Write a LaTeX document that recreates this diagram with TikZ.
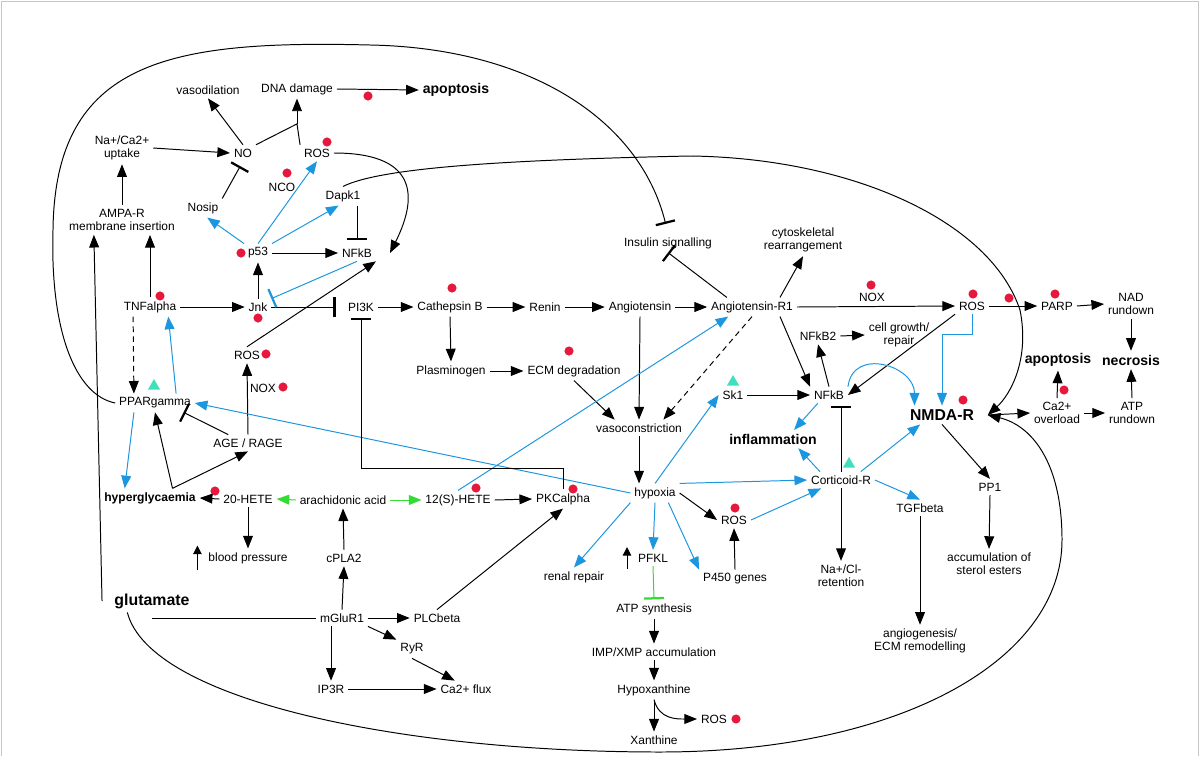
\documentclass[tikz,border=0pt]{standalone}
\usepackage{fontspec}
\setmainfont{Liberation Sans}
\usetikzlibrary{arrows.meta,shapes.geometric}

\definecolor{pblue}{RGB}{28,150,222}
\definecolor{pgreen}{RGB}{50,220,50}
\definecolor{pred}{RGB}{230,25,60}
\definecolor{pturq}{RGB}{64,224,190}

\tikzset{
	txt/.style={inner sep=2.5pt, align=center, font=\fontsize{8.5}{9.5}\selectfont},
	bld/.style={txt, font=\bfseries\fontsize{10}{11}\selectfont},
	act/.style={->},
	blu/.style={->, pblue},
	inh/.style={-{Bar[width=14pt,line width=1.6pt]}},
	hit/.style={circle, fill=pred, inner sep=0pt, minimum size=6.5pt},
	tri/.style={regular polygon, regular polygon sides=3, fill=pturq, inner sep=0pt, minimum size=10pt}
}

\begin{document}
\begin{tikzpicture}[x=0.025cm, y=-0.025cm, line width=0.7pt, >={Triangle[length=9pt,width=7pt]}]
	\useasboundingbox (0,0) rectangle (1200,756);
	\draw[gray!45, line width=0.6pt] (1,756) -- (1,1) -- (1198,1) -- (1198,756);

	% labels
	\node[txt] (vaso) at (208,90) {vasodilation};
	\node[txt] (dna) at (297,89) {DNA damage};
	\node[bld] (apop) at (456,90) {apoptosis};
	\node[txt] (naca) at (122,148) {Na+/Ca2+\\uptake};
	\node[txt] (no) at (243,153) {NO};
	\node[txt] (rosA) at (317,153) {ROS};
	\node[txt] (nco) at (282,187) {NCO};
	\node[txt] (dapk) at (343,196) {Dapk1};
	\node[txt] (nosip) at (203,208) {Nosip};
	\node[txt] (ampa) at (122,220) {AMPA-R\\membrane insertion};
	\node[txt] (ptf) at (258,253) {p53};
	\node[txt] (nfkbA) at (357,253) {NFkB};
	\node[txt] (insulin) at (668,243) {Insulin signalling};
	\node[txt] (cyto) at (803,240) {cytoskeletal\\rearrangement};
	\node[txt] (tnf) at (150,307) {TNFalpha};
	\node[txt] (jnk) at (258,307) {Jnk};
	\node[txt] (pik) at (361,307) {PI3K};
	\node[txt] (cath) at (450,307) {Cathepsin B};
	\node[txt] (renin) at (545,307) {Renin};
	\node[txt] (angio) at (640,307) {Angiotensin};
	\node[txt] (atr) at (752,307) {Angiotensin-R1};
	\node[txt] (noxB) at (872,297) {NOX};
	\node[txt] (rosD) at (972,306) {ROS};
	\node[txt] (parp) at (1057,306) {PARP};
	\node[txt] (nad) at (1131,304) {NAD\\rundown};
	\node[txt] (nfkbtwo) at (818,336) {NFkB2};
	\node[txt] (cellg) at (899,335) {cell growth/\\repair};
	\node[txt] (rosB) at (247,355) {ROS};
	\node[txt] (noxA) at (263,388) {NOX};
	\node[txt] (plasm) at (451,371) {Plasminogen};
	\node[txt] (ecm) at (574,371) {ECM degradation};
	\node[bld] (apopB) at (1058,360) {apoptosis};
	\node[bld] (necro) at (1131,360) {necrosis};
	\node[txt] (sk) at (733,395) {Sk1};
	\node[txt] (nfkbB) at (829,395) {NFkB};
	\node[txt] (ppar) at (155,403) {PPARgamma};
	\node[bld, font=\bfseries\fontsize{11.2}{12}\selectfont] (nmda) at (942,415) {NMDA-R};
	\node[txt] (caover) at (1057,413) {Ca2+\\overload};
	\node[txt] (atprun) at (1132,413) {ATP\\rundown};
	\node[txt] (vasoc) at (639,428) {vasoconstriction};
	\node[bld] (inflam) at (773,439) {inflammation};
	\node[txt] (age) at (248,443) {AGE / RAGE};
	\node[txt] (cort) at (841,480) {Corticoid-R};
	\node[txt] (pp) at (990,487) {PP1};
	\node[txt] (hypox) at (655,493) {hypoxia};
	\node[bld, font=\bfseries\fontsize{8.6}{9.5}\selectfont] (hyper) at (150,498) {hyperglycaemia};
	\node[txt] (hete20) at (248,499) {20-HETE};
	\node[txt] (arach) at (343,500) {arachidonic acid};
	\node[txt] (hete12) at (458,500) {12(S)-HETE};
	\node[txt] (pkc) at (563,499) {PKCalpha};
	\node[txt] (tgf) at (920,508) {TGFbeta};
	\node[txt] (rosC) at (734,520) {ROS};
	\node[txt] (bp) at (248,558) {blood pressure};
	\node[txt] (cpla) at (344,558) {cPLA2};
	\node[txt] (pfkl) at (653,558) {PFKL};
	\node[txt] (sterol) at (989,564) {accumulation of\\sterol esters};
	\node[txt] (renal) at (574,577) {renal repair};
	\node[txt] (nacl) at (841,576) {Na+/Cl-\\retention};
	\node[txt] (pfh) at (735,579) {P450 genes};
	\node[bld, font=\bfseries\fontsize{11.3}{12}\selectfont] (glu) at (152,601) {glutamate};
	\node[txt] (atpsyn) at (654,609) {ATP synthesis};
	\node[txt] (mglu) at (342,618) {mGluR1};
	\node[txt] (plc) at (437,618) {PLCbeta};
	\node[txt] (angiog) at (920,641) {angiogenesis/\\ECM remodelling};
	\node[txt] (ryr) at (412,649) {RyR};
	\node[txt] (imp) at (654,652) {IMP/XMP accumulation};
	\node[txt] (ipr) at (331,689) {IP3R};
	\node[txt] (caflux) at (466,689) {Ca2+ flux};
	\node[txt] (hypoxan) at (654,690) {Hypoxanthine};
	\node[txt] (rosE) at (714,719) {ROS};
	\node[txt] (xan) at (654,740) {Xanthine};

	% markers
	\foreach \px/\py [count=\i] in {368/96, 327/142, 287/173, 241/253, 160/296, 258/318, 266/354, 283/387, 215/491, 452/288, 569/351, 476/488, 573/489, 735/508, 871/285, 973/294, 1009/298, 1055/294, 963/400, 1064/390, 736/719}
		\node[hit] (dot\i) at (\px,\py) {};
	\foreach \px/\py [count=\i] in {154/386, 733/382, 849/464}
		\node[tri] (tri\i) at (\px,\py) {};

	\coordinate (nmdaE) at ([xshift=7pt]nmda.east);
	\coordinate (dnaj) at ([yshift=-18pt]dna.south);
	\coordinate (hv) at ([xshift=16pt]hyper.north);
	\coordinate (pkcup) at ([yshift=15pt]pkc.north);

	% long curves
	\draw[inh, shorten >=7pt] (ppar.west) .. controls (75,395) and (50,330) .. (53,230) .. controls (55,60) and (170,40) .. (370,45) .. controls (530,48) and (640,120) .. (insulin.north);
	\draw[act] (dapk.north) .. controls (380,168) and (500,160) .. (690,156) .. controls (850,158) and (990,220) .. (1020,310) .. controls (1030,360) and (1010,395) .. (nmdaE);
	\draw[act] ([xshift=12pt]glu.south west) .. controls (150,700) and (400,752) .. (660,752) .. controls (900,752) and (1062,660) .. (1062,540) .. controls (1062,460) and (1030,425) .. (nmdaE);

	% top
	\draw[act] (naca.east) -- (no.west);
	\draw[act] (no.north) -- (vaso.south);
	\draw (no.north east) -- (dnaj) -- (rosA.north west);
	\draw[act] (dnaj) -- (dna.south);
	\draw[act] (dna.east) -- (apop.west);
	\draw[inh, shorten >=4pt] (nosip.north east) -- (no.south);
	\draw[blu] (ptf.north west) -- ([xshift=3pt]nosip.south);
	\draw[blu] (ptf.north) -- (rosA.south);
	\draw[blu] (ptf.north east) -- ([xshift=12pt]dapk.south west);
	\draw[act] (ptf.east) -- (nfkbA.west);
	\draw[inh, shorten >=3pt] (dapk.south -| nfkbA) -- (nfkbA.north);
	\draw[act] (rosA.east) .. controls +(80,0) and +(30,-60) .. ([xshift=10pt]nfkbA.east);

	% left
	\draw[act] (ampa.north) -- (naca.south);
	\draw[act] (tnf.north) -- (tnf.north |- ampa.south);
	\draw[act] ([xshift=-6pt]glu.west) -- ([xshift=-20pt]ampa.south);
	\draw[act, dash pattern=on 4pt off 3pt] ([xshift=-12pt]tnf.south) -- ([xshift=-15pt]ppar.north);
	\draw[blu] ([xshift=15pt]ppar.north) -- ([xshift=13pt]tnf.south);
	\draw[blu] ([xshift=-15pt]ppar.south) -- ([xshift=-18pt]hyper.north);
	\draw[act] (hv) -- (ppar.south);
	\draw[act] (hv) -- (age.south);
	\draw[inh] ([xshift=-14pt]age.north) -- ([xshift=-8pt]ppar.south east);
	\draw[act] (age.north) -- (rosB.south);
	\draw[act] (rosB.north) -- (nfkbA.south east);
	\draw[act] (tnf.east) -- (jnk.west);
	\draw[act] (jnk.north) -- (ptf.south);
	\draw[inh, shorten >=6pt] (jnk.east) -- (pik.west);
	\draw[inh, pblue] (nfkbA.south) -- (jnk.north east);

	% renin chain
	\draw[act] (pik.east) -- (cath.west);
	\draw[act] (cath.east) -- (renin.west);
	\draw[act] (renin.east) -- (angio.west);
	\draw[act] (angio.east) -- (atr.west);
	\draw[inh] ([xshift=14pt]atr.north west) -- (insulin.south);
	\draw[act] ([xshift=-12pt]atr.north east) -- (cyto.south);
	\draw[act] (cath.south) -- (plasm.north);
	\draw[act] (plasm.east) -- (ecm.west);
	\draw[act] (ecm.south) -- ([xshift=16pt]vasoc.north west);
	\draw[act] (angio.south) -- (vasoc.north);
	\draw[act, dash pattern=on 4pt off 3pt] (atr.south) -- ([xshift=-16pt]vasoc.north east);
	\draw[act] (vasoc.south) -- (vasoc.south |- hypox.north);

	% right
	\draw[act] (atr.east) -- (rosD.west);
	\draw[act] (rosD.east) -- (parp.west);
	\draw[act] (parp.east) -- (nad.west);
	\draw[act] (nad.south) -- (necro.north);
	\draw[act] (atprun.north) -- (necro.south);
	\draw[act] (caover.north) -- (apopB.south);
	\draw[act] (caover.east) -- (atprun.west);
	\draw[act] (nmdaE) -- (caover.west);
	\draw[act] ([xshift=-12pt]atr.south east) -- (nfkbB.north west);
	\draw[act] (nfkbB.north) -- (nfkbtwo.south);
	\draw[act] (nfkbtwo.east) -- (cellg.west);
	\draw[act] (sk.east) -- (nfkbB.west);
	\draw[act] (rosD.south west) -- (nfkbB.east);
	\draw[blu] (rosD.south) -- ++(0,20) -| (nmda.north);
	\draw[blu] (nfkbB.north east) .. controls +(5,-40) and +(0,-40) .. ([xshift=6pt]nmda.north west);
	\draw[blu] ([xshift=-8pt]nfkbB.south) -- ([xshift=15pt]inflam.north);
	\draw[blu] ([xshift=-15pt]cort.north) -- ([xshift=18pt]inflam.south);
	\draw[inh, shorten >=2pt] (cort.north) -- (cort.north |- nfkbB.south);
	\draw[blu] ([xshift=-10pt]cort.north east) -- ([xshift=10pt]nmda.south west);
	\draw[blu] (cort.east) -- (tgf.north);
	\draw[act] (cort.south) -- (nacl.north);
	\draw[act] (tgf.south) -- (angiog.north);
	\draw[act] (nmda.south) -- (pp.north);
	\draw[act] (pp.south) -- (sterol.north);

	% hypoxia
	\draw[blu] (hypox.north) -- (sk.west);
	\draw[blu] (hypox.north east) -- (cort.west);
	\draw[act] (hypox.east) -- (rosC.west);
	\draw[blu] (rosC.east) -- ([xshift=10pt]cort.south west);
	\draw[act] (pfh.north) -- (rosC.south);
	\draw[blu] (hypox.south) -- (pfkl.north);
	\draw[inh, pgreen] (pfkl.south) -- (atpsyn.north);
	\draw[blu] (hypox.south west) -- (renal.north);
	\draw[blu] ([xshift=-8pt]hypox.south east) -- (pfh.north west);
	\draw[blu] (hypox.west) -- (ppar.east);
	\draw[act] (atpsyn.south) -- (imp.north);
	\draw[act] (imp.south) -- (hypoxan.north);
	\draw[act] (hypoxan.south) -- (xan.north);
	\draw[act] (hypoxan.south) .. controls +(5,20) and +(-20,0) .. (rosE.west);
	\draw[act, >={Triangle[length=6pt,width=6pt]}] ([shift={(-5pt,-2pt)}]pfkl.south west) -- ([shift={(-5pt,2pt)}]pfkl.north west);

	% bottom left
	\draw[act] (hete20.west) -- (hyper.east);
	\draw[act, pgreen] (arach.west) -- (hete20.east);
	\draw[act, pgreen] (arach.east) -- (hete12.west);
	\draw[act] (hete12.east) -- (pkc.west);
	\draw[blu] (hete12.north) -- ([xshift=15pt]atr.south west);
	\draw[inh, shorten >=2pt] (pkc.north) -- (pkcup) -| (pik.south);
	\draw[act] (hete20.south) -- (bp.north);
	\draw[act, >={Triangle[length=6pt,width=6pt]}] ([shift={(-5pt,-2pt)}]bp.south west) -- ([shift={(-5pt,2pt)}]bp.north west);
	\draw[act] (cpla.north) -- (arach.south);
	\draw (glu.south |- mglu.west) -- (mglu.west);
	\draw[act] (mglu.north) -- (cpla.south);
	\draw[act] (mglu.east) -- (plc.west);
	\draw[act] (plc.north) -- (pkc.south);
	\draw[act] (mglu.south east) -- (ryr.north west);
	\draw[act] (mglu.south -| ipr) -- (ipr.north);
	\draw[act] (ipr.east) -- (caflux.west);
	\draw[act] (ryr.south) -- ([xshift=-8pt]caflux.north);
\end{tikzpicture}
\end{document}
